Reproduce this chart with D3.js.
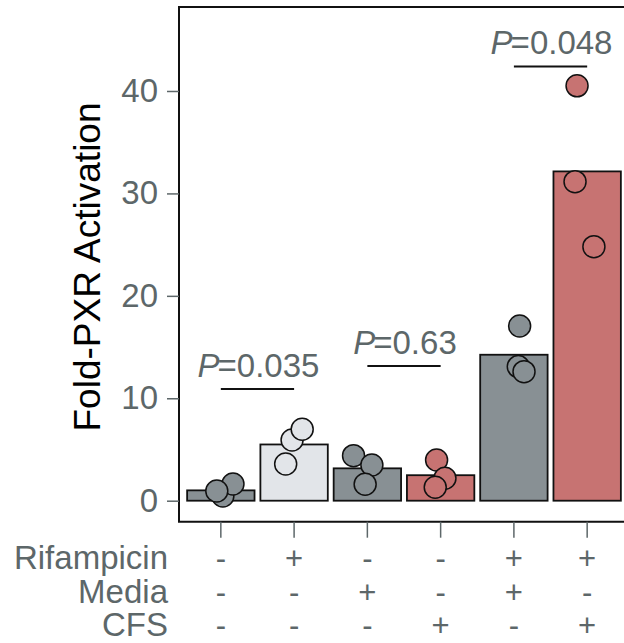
<!DOCTYPE html>
<html>
<head>
<meta charset="utf-8">
<script src="https://cdn.jsdelivr.net/npm/d3@7"></script>
<style>
  html, body { margin: 0; padding: 0; background: #fff; }
  svg { display: block; }
  text { font-family: "Liberation Sans", Arial, Helvetica, sans-serif; }
</style>
</head>
<body>
<svg id="chart" width="624" height="643"></svg>
<script>
// ---- data ----
const groups = ["G1", "G2", "G3", "G4", "G5", "G6"];
const treatmentNames = ["Rifampicin", "Media", "CFS"];
const rifampicin = ["-", "+", "-", "-", "+", "+"];
const media = ["-", "-", "+", "-", "+", "-"];
const cfs = ["-", "-", "-", "+", "-", "+"];
const barMeans = [1.01, 5.49, 3.16, 2.49, 14.25, 32.15];
const replicates = [
  [0.46, 1.63, 0.95],
  [3.58, 5.93, 6.97],
  [4.40, 3.49, 1.60],
  [3.98, 2.19, 1.31],
  [17.06, 13.09, 12.60],
  [40.5, 31.15, 24.8]
];
const jitter = [
  [0.03, 0.18, -0.06],
  [-0.125, -0.03, 0.12],
  [-0.205, 0.067, -0.033],
  [-0.06, 0.064, -0.08],
  [0.085, 0.065, 0.15],
  [-0.15, -0.18, 0.1]
];
const groupType = ["gray", "light", "gray", "red", "gray", "red"];
const comparisons = [
  { from: "G1", to: "G2", y: 10.9, p: "0.035" },
  { from: "G3", to: "G4", y: 13.15, p: "0.63" },
  { from: "G5", to: "G6", y: 42.4, p: "0.048" }
];
const yTicks = [0, 10, 20, 30, 40];

// ---- style ----
const colors = { gray: "#889094", light: "#e2e5e9", red: "#c77372" };
const textGray = "#5d6769";

const svg = d3.select("#chart");
const mLeft = 179, mRight = 629, mTop = 7, mBottom = 521.7;

const x = d3.scaleBand().domain(groups).range([mLeft, mRight])
  .paddingInner(0.08).paddingOuter(0.111);
const y = d3.scaleLinear().domain([-2.05, 48.2]).range([mBottom, mTop]);

// frame
svg.append("path")
  .attr("d", `M${mRight},${mTop}H${mLeft}V${mBottom}H${mRight}`)
  .attr("fill", "none").attr("stroke", "#111").attr("stroke-width", 2);

// y axis
const yAxis = svg.append("g").attr("transform", `translate(${mLeft},0)`)
  .call(d3.axisLeft(y).tickValues(yTicks).tickSize(12).tickPadding(9));
yAxis.select(".domain").remove();
yAxis.selectAll(".tick line").attr("stroke", textGray).attr("stroke-width", 1.5);
yAxis.selectAll(".tick text").attr("fill", textGray)
  .style("font-size", "33px").style("font-family", "Liberation Sans, Arial, sans-serif");

// x axis ticks
const xAxis = svg.append("g").attr("transform", `translate(0,${mBottom})`)
  .call(d3.axisBottom(x).tickSize(16).tickFormat(""));
xAxis.select(".domain").remove();
xAxis.selectAll(".tick line").attr("stroke", textGray).attr("stroke-width", 1.5);

// y label
svg.append("text")
  .attr("transform", `translate(100,267) rotate(-90)`)
  .attr("text-anchor", "middle")
  .attr("fill", "#000")
  .style("font-size", "37px")
  .text("Fold-PXR Activation");

// bars
svg.append("g").selectAll("rect").data(groups).join("rect")
  .attr("x", d => x(d))
  .attr("width", x.bandwidth())
  .attr("y", (d, i) => y(barMeans[i]))
  .attr("height", (d, i) => y(0) - y(barMeans[i]))
  .attr("fill", (d, i) => colors[groupType[i]])
  .attr("stroke", "#111").attr("stroke-width", 1.8);

// points
const pts = [];
groups.forEach((g, i) => replicates[i].forEach((v, j) => pts.push({ g, i, v, j: jitter[i][j] })));
svg.append("g").selectAll("circle").data(pts).join("circle")
  .attr("cx", d => x(d.g) + x.bandwidth() / 2 + d.j * x.bandwidth())
  .attr("cy", d => y(d.v))
  .attr("r", 11)
  .attr("fill", d => colors[groupType[d.i]])
  .attr("stroke", "#111").attr("stroke-width", 1.5);

// comparisons
const cmp = svg.append("g");
comparisons.forEach(c => {
  const x1 = x(c.from) + x.bandwidth() / 2, x2 = x(c.to) + x.bandwidth() / 2;
  cmp.append("line").attr("x1", x1).attr("x2", x2)
    .attr("y1", y(c.y)).attr("y2", y(c.y))
    .attr("stroke", "#111").attr("stroke-width", 2);
  const t = cmp.append("text")
    .attr("x", (x1 + x2) / 2 + 1).attr("y", y(c.y) - 12)
    .attr("text-anchor", "middle").attr("fill", textGray)
    .style("font-size", "33px");
  t.append("tspan").style("font-style", "italic").text("P");
  t.append("tspan").attr("dx", -2).text("=" + c.p);
});

// treatment table
const rows = [rifampicin, media, cfs];
const rowY = [569, 603, 636];
const tbl = svg.append("g");
treatmentNames.forEach((name, r) => {
  tbl.append("text").attr("x", 168).attr("y", rowY[r])
    .attr("text-anchor", "end").attr("fill", textGray)
    .style("font-size", "33px").text(name);
  tbl.selectAll(null).data(groups).join("text")
    .attr("x", d => x(d) + x.bandwidth() / 2)
    .attr("y", rowY[r])
    .attr("text-anchor", "middle").attr("fill", textGray)
    .style("font-size", "31px")
    .text((d, i) => rows[r][i]);
});
</script>
</body>
</html>
